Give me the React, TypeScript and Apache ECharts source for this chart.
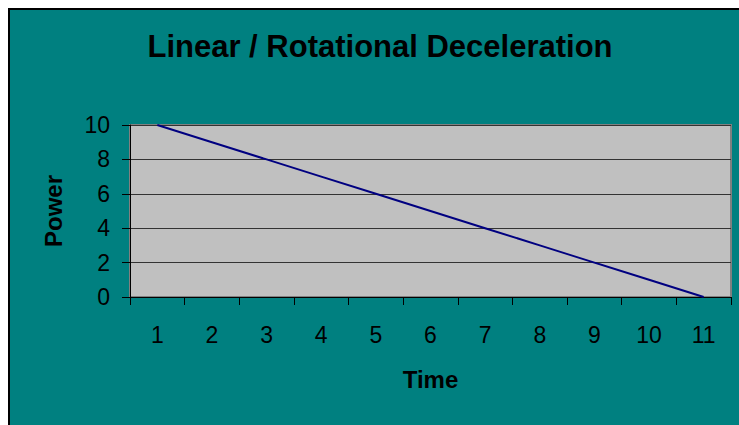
import React, { useEffect, useRef } from "react";
import * as echarts from "echarts";

const categories = ["1", "2", "3", "4", "5", "6", "7", "8", "9", "10", "11"];
const powerValues = [10, 9, 8, 7, 6, 5, 4, 3, 2, 1, 0];
const titleText = "Linear / Rotational Deceleration";
const yAxisName = "Power";
const xAxisName = "Time";

const FONT = "'Liberation Sans', Arial, sans-serif";

export default function App() {
  const ref = useRef<HTMLDivElement>(null);
  useEffect(() => {
    if (!ref.current) return;
    const chart = echarts.init(ref.current, undefined, { renderer: "svg" });
    chart.setOption({
      animation: false,
      backgroundColor: "#008080",
      textStyle: { fontFamily: FONT },
      graphic: [
        {
          type: "text",
          x: 370,
          y: 36,
          style: {
            text: titleText,
            fontSize: 31,
            fontWeight: "bold",
            fontFamily: FONT,
            fill: "#000",
            textAlign: "center",
            textVerticalAlign: "middle",
          },
        },
      ],
      grid: {
        left: 120,
        top: 115,
        width: 601,
        height: 172,
        show: true,
        backgroundColor: "#C0C0C0",
        borderColor: "#808080",
        borderWidth: 2,
      },
      xAxis: {
        type: "category",
        data: categories,
        boundaryGap: true,
        name: xAxisName,
        nameLocation: "middle",
        nameGap: 70,
        nameTextStyle: { fontSize: 24, fontWeight: "bold", color: "#000", fontFamily: FONT },
        axisLine: { lineStyle: { color: "#000", width: 1 } },
        axisTick: { show: true, length: 8, inside: false, lineStyle: { color: "#000" } },
        axisLabel: { margin: 26, fontSize: 23, color: "#000", fontFamily: FONT },
        splitLine: { show: false },
      },
      yAxis: {
        type: "value",
        min: 0,
        max: 10,
        interval: 2,
        name: yAxisName,
        nameLocation: "middle",
        nameGap: 65,
        nameRotate: 90,
        nameTextStyle: { fontSize: 24, fontWeight: "bold", color: "#000", fontFamily: FONT },
        axisLine: { show: true, lineStyle: { color: "#000", width: 1 } },
        axisTick: { show: true, length: 8, inside: false, lineStyle: { color: "#000" } },
        axisLabel: { margin: 20, fontSize: 23, color: "#000", fontFamily: FONT },
        splitLine: { show: true, lineStyle: { color: "#333", width: 1 } },
      },
      series: [
        {
          type: "line",
          data: powerValues,
          symbol: "none",
          lineStyle: { color: "#000080", width: 2 },
          itemStyle: { color: "#000080" },
        },
      ],
    });
    return () => chart.dispose();
  }, []);
  return (
    <div
      style={{
        position: "fixed",
        left: 8,
        top: 8,
        width: 731,
        height: 417,
        overflow: "hidden",
      }}
    >
      <div
        style={{
          position: "absolute",
          left: 0,
          top: 0,
          width: 744,
          height: 432,
          border: "2px solid #000",
          boxSizing: "border-box",
          background: "#008080",
        }}
      >
        <div ref={ref} style={{ width: 740, height: 428 }} />
      </div>
    </div>
  );
}
